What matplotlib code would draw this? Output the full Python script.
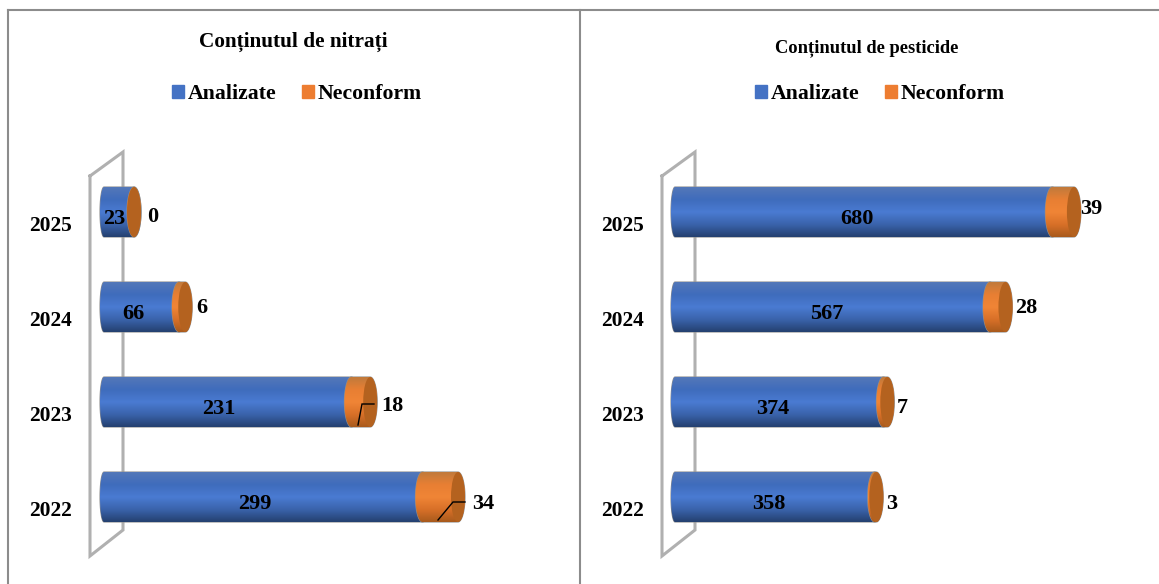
import numpy as np
import matplotlib
matplotlib.use('Agg')
import matplotlib.pyplot as plt
from matplotlib.colors import LinearSegmentedColormap
from matplotlib.lines import Line2D
from matplotlib.patches import Ellipse, PathPatch, Patch
from matplotlib.path import Path

plt.rcParams['font.family'] = ['Liberation Serif', 'DejaVu Serif']
plt.rcParams['font.weight'] = 'bold'

years = ['2022', '2023', '2024', '2025']
nitrati_analizate = [299, 231, 66, 23]
nitrati_neconform = [34, 18, 6, 0]
pesticide_analizate = [358, 374, 567, 680]
pesticide_neconform = [3, 7, 28, 39]

# label centres in pixels, measured on the picture
nitrati_blue_pos = [(255, 504), (219, 409), (133, 314), (114, 219)]
nitrati_orange_pos = [(483, 504), (392, 406), (202, 308), (153, 217)]
pesticide_blue_pos = [(769, 504), (773, 409), (827, 314), (857, 219)]
pesticide_orange_pos = [(892, 504), (902, 408), (1026, 308), (1091, 209)]

W, H = 1159, 584
blue_map = LinearSegmentedColormap.from_list('b', ['#5478b8', '#3f6cbc', '#4a7bd2', '#3a63ab', '#24406f'])
orange_map = LinearSegmentedColormap.from_list('o', ['#c07a3c', '#e87f33', '#f08536', '#d87028', '#a85a1c'])
gradient = np.linspace(0, 1, 256).reshape(-1, 1)

fig = plt.figure(figsize=(W / 100, H / 100), dpi=100)
fig.patch.set_facecolor('white')


def px_line(xs, ys, color, lw, z=0):
    # pixel coordinates measured from the top left corner
    fig.add_artist(Line2D([x / W for x in xs], [1 - y / H for y in ys], color=color, lw=lw,
                          zorder=z, solid_joinstyle='miter'))


def cylinder(ax, x0, x1, y, h, rx_left, rx, cmap):
    t = np.linspace(-np.pi / 2, np.pi / 2, 40)
    right = np.column_stack([x1 + rx * np.cos(t), y + h / 2 * np.sin(t)])
    left = np.column_stack([x0 - rx_left * np.cos(t[::-1]), y + h / 2 * np.sin(t[::-1])])
    pts = np.vstack([right, left, right[:1]])
    shape = PathPatch(Path(pts), facecolor='none', edgecolor='#8f8f8f', lw=0.8, zorder=3, transform=ax.transData)
    ax.add_patch(shape)
    im = ax.imshow(gradient, cmap=cmap, aspect='auto', extent=(x0 - rx_left, x1 + rx, y - h / 2, y + h / 2), zorder=3)
    im.set_clip_path(shape)


def panel(px_left, px_zero, scale, base, title, title_y, title_size, analizate, neconform, blue_pos, orange_pos,
          title_x, legend_x):
    ax = fig.add_axes([px_left / W, 0, 570 / W, 1 - 11 / H])
    ax.set_axis_off()
    rx = 7 / scale
    h = 50 / 95
    # bars stand slightly in front of the zero line, on the 3D floor
    x_base = base / scale

    def dx(p):
        return (p - px_zero) / scale

    def dy(p):
        return (497 - p) / 95

    # back wall of the 3D chart
    wall = px_left + 81
    px_line([wall, wall + 33, wall + 33, wall, wall], [176, 152, 530, 556, 176], '#b0b0b0', 2.2)

    for i, yr in enumerate(years):
        a = analizate[i]
        n = neconform[i]
        cylinder(ax, x_base, a, i, h, 4 / scale, rx, blue_map)
        cylinder(ax, a, a + n, i, h, rx, rx, orange_map)
        ax.add_patch(Ellipse((a + n, i), 2 * rx, h, facecolor='#b4621f', edgecolor='none', zorder=4))
        ax.text(dx(blue_pos[i][0]), dy(blue_pos[i][1]), str(a), ha='center', va='center', fontsize=16, color='black', zorder=6)
        ax.text(dx(orange_pos[i][0]), dy(orange_pos[i][1]), str(n), ha='center', va='center', fontsize=16, color='black', zorder=6)
        ax.text(dx(px_left + 42), i - 14 / 95, yr, ha='center', va='center', fontsize=15.5, color='black')

    ax.set_xlim(dx(px_left), dx(px_left + 570))
    ax.set_ylim(dy(H), dy(11))

    fig.text(title_x / W, 1 - title_y / H, title, ha='center', va='center', fontsize=title_size, color='black')
    handles = [Patch(color='#4472c4', label='Analizate'), Patch(color='#ed7d31', label='Neconform')]
    fig.legend(handles=handles, loc='center', bbox_to_anchor=(legend_x / W, 1 - 94 / H), ncol=2,
               frameon=False, fontsize=15.7, handlelength=0.55, handleheight=0.55, handletextpad=0.15, columnspacing=1.2,
               borderpad=0, borderaxespad=0)
    return ax


# panel frame
px_line([8, 8], [10, H], '#8c8c8c', 1.5)
px_line([8, W], [10, 10], '#8c8c8c', 1.5)
px_line([580, 580], [10, H], '#8c8c8c', 1.5)

panel(9, 110, 1.045, -6, 'Conținutul de nitrați', 42, 15.3, nitrati_analizate, nitrati_neconform,
      nitrati_blue_pos, nitrati_orange_pos, 293, 297)
panel(581, 677, 0.552, -2, 'Conținutul de pesticide', 48, 13.3, pesticide_analizate, pesticide_neconform,
      pesticide_blue_pos, pesticide_orange_pos, 867, 880)

# leader lines for the two labels placed over the bars
px_line([358, 362, 374], [425, 404, 404], 'black', 1.0, 7)
px_line([438, 453, 465], [520, 502, 502], 'black', 1.0, 7)

fig.savefig('out.png', dpi=100, facecolor='white')
